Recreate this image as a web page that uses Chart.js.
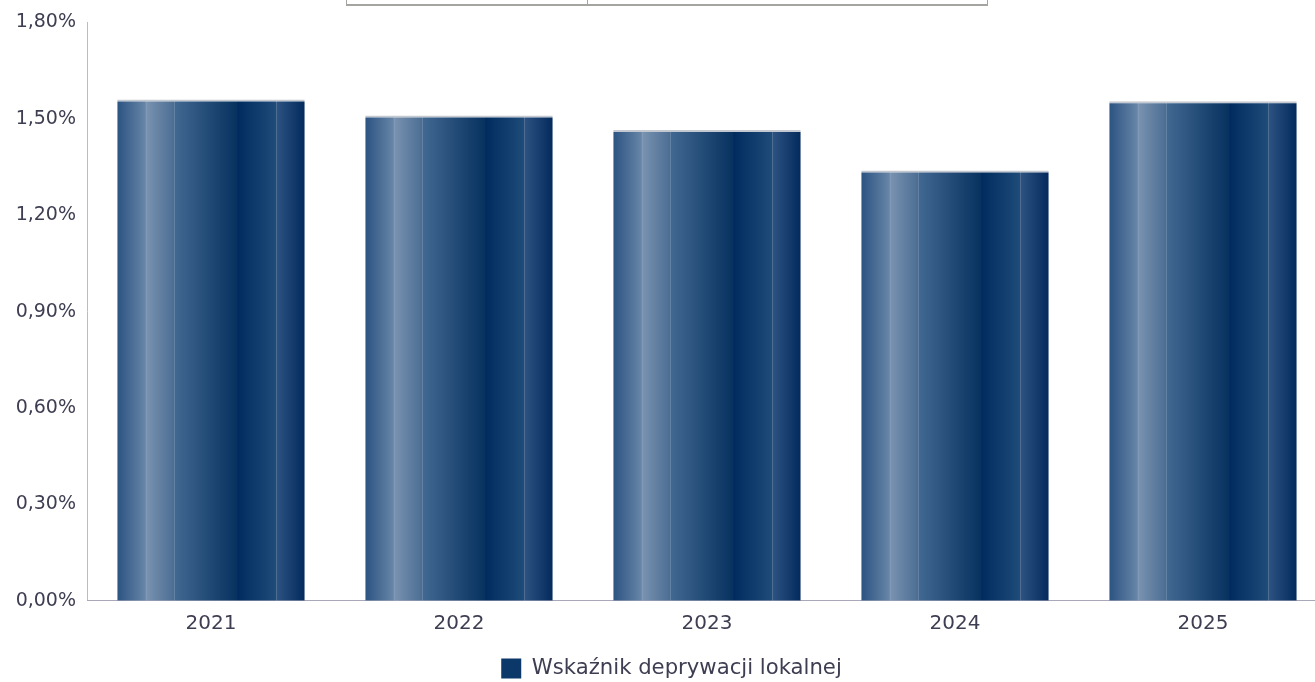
<!DOCTYPE html>
<html lang="pl">
<head>
<meta charset="utf-8">
<title>Wskaźnik deprywacji lokalnej</title>
<script src="https://cdn.jsdelivr.net/npm/chart.js@4.4.1/dist/chart.umd.min.js"></script>
<style>
  html, body { margin: 0; padding: 0; background: #fff; }
  body { width: 1315px; height: 682px; position: relative; overflow: hidden; }
  /* oś kategorii wychodzi trochę poza okno, jak w oryginale */
  .chart-box { position: absolute; left: 0; top: 0; width: 1327px; height: 689px; }
  /* kawałek tabelki nad wykresem */
  .top-table { position: absolute; left: 346px; top: -18px; width: 642px; height: 24px;
    border: 1px solid #a4a4a0; border-bottom-width: 2px; box-sizing: border-box; z-index: 2; }
  .top-table div { position: absolute; left: 240px; top: 0; bottom: 0; border-left: 1px solid #a4a4a0; }
</style>
</head>
<body>
<div class="top-table"><div></div></div>
<div class="chart-box"><canvas id="deprChart"></canvas></div>
<script>
  const years = ['2021', '2022', '2023', '2024', '2025'];
  const deprValues = [1.56, 1.51, 1.465, 1.339, 1.555];
  const yTicks = [0, 0.3, 0.6, 0.9, 1.2, 1.5, 1.8];
  const seriesLabel = 'Wskaźnik deprywacji lokalnej';

  const TEXT = '#3e3e52';
  const CAT_PCT = 0.9;
  const BAR_PCT = 0.84;

  // gradient "walcowy" z cienkimi pionowymi liniami
  const stops = [
    [0.000, '#2b5382'], [0.150, '#6785a7'], [0.153, '#8fa3bc'], [0.158, '#7892b0'],
    [0.300, '#4d6e94'], [0.303, '#8196b0'], [0.308, '#416891'],
    [0.640, '#07315f'], [0.643, '#00275a'], [0.648, '#002c60'],
    [0.845, '#1f4b79'], [0.848, '#5d789a'], [0.853, '#2c5281'], [1.000, '#022a5c']
  ];

  function barFill(ctx) {
    const chart = ctx.chart;
    const xs = chart.scales.x;
    if (!xs || !chart.chartArea) return '#0b3566';
    const cx = xs.getPixelForValue(ctx.dataIndex);
    const w = (xs.width / years.length) * CAT_PCT * BAR_PCT;
    const g = chart.ctx.createLinearGradient(cx - w / 2, 0, cx + w / 2, 0);
    stops.forEach(s => g.addColorStop(s[0], s[1]));
    return g;
  }

  new Chart(document.getElementById('deprChart'), {
    type: 'bar',
    data: {
      labels: years,
      datasets: [{
        label: seriesLabel,
        data: deprValues,
        backgroundColor: barFill,
        borderColor: '#c4c8d0',
        borderWidth: { top: 2, left: 0, right: 0, bottom: 0 },
        borderSkipped: false,
        categoryPercentage: CAT_PCT,
        barPercentage: BAR_PCT
      }]
    },
    options: {
      responsive: true,
      maintainAspectRatio: false,
      animation: false,
      layout: { padding: { top: 20, right: 0, left: 16, bottom: 0 } },
      plugins: {
        tooltip: { enabled: false },
        legend: {
          position: 'bottom',
          labels: {
            color: TEXT,
            font: { family: 'DejaVu Sans', size: 21.2 },
            boxWidth: 20,
            boxHeight: 20,
            padding: 2,
            generateLabels: () => [{
              text: seriesLabel,
              fillStyle: '#0b3868',
              strokeStyle: '#0b3868',
              fontColor: TEXT,
              lineWidth: 0,
              datasetIndex: 0
            }]
          }
        }
      },
      scales: {
        y: {
          min: 0,
          max: 1.8,
          afterBuildTicks: s => { s.ticks = yTicks.map(v => ({ value: v })); },
          afterFit: s => { s.width = 71; },
          ticks: {
            color: TEXT,
            padding: 11,
            font: { family: 'DejaVu Sans', size: 19 },
            callback: v => v.toFixed(2).replace('.', ',') + '%'
          },
          grid: { display: false, drawTicks: false },
          border: { color: '#babace', width: 1 }
        },
        x: {
          afterFit: s => { s.height = 55; },
          ticks: {
            color: TEXT,
            padding: 11,
            font: { family: 'DejaVu Sans', size: 20 }
          },
          grid: { display: false, drawTicks: false },
          border: { color: '#a8a8b8', width: 1 }
        }
      }
    }
  });
</script>
</body>
</html>
